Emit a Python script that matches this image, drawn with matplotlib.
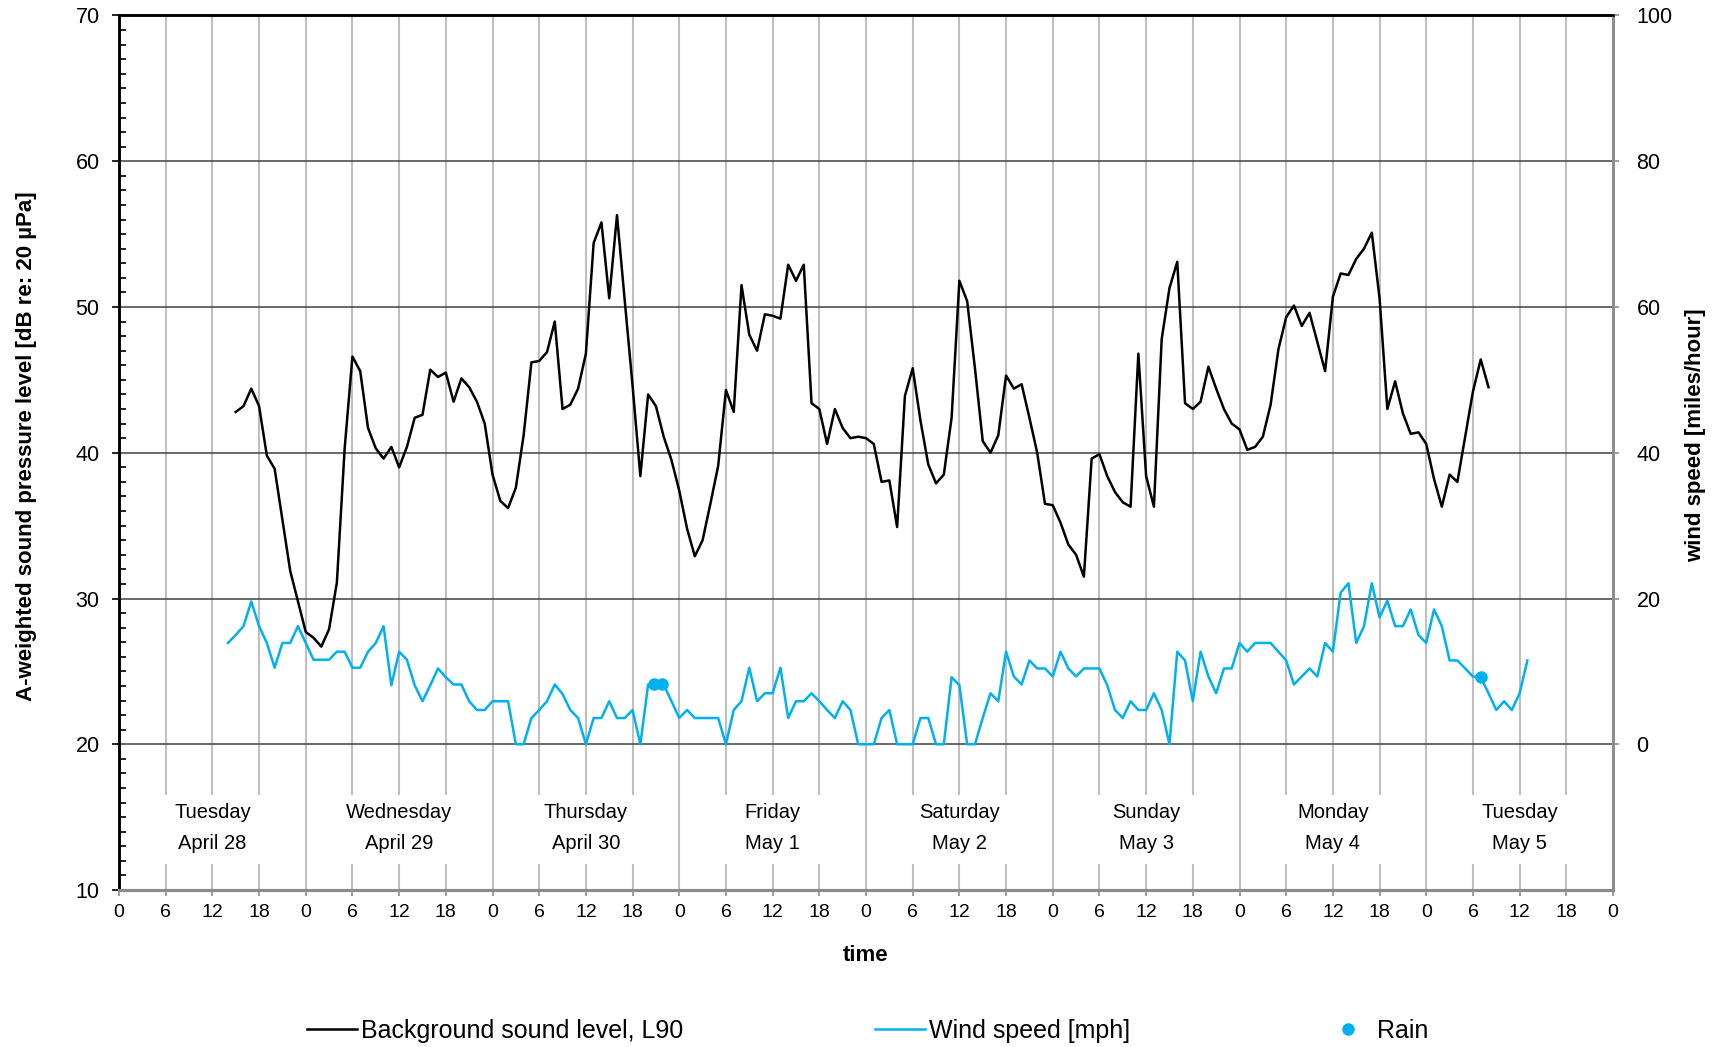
import numpy as np
import matplotlib.pyplot as plt
from matplotlib.lines import Line2D

plt.rcParams['font.family'] = ['Liberation Sans', 'DejaVu Sans']

# L90 background level, hourly values starting Tuesday 15:00 (hour 15)
sound_start = 15
sound_l90 = [
    42.8, 43.2, 44.4, 43.2, 39.8, 38.9, 35.4, 31.9, 29.8, 27.7,
    27.3, 26.7, 27.9, 31.1, 40.3, 46.6, 45.6, 41.7, 40.3, 39.6,
    40.4, 39.0, 40.4, 42.4, 42.6, 45.7, 45.2, 45.5, 43.5, 45.1,
    44.5, 43.5, 42.0, 38.5, 36.7, 36.2, 37.6, 41.2, 46.2, 46.3,
    46.9, 49.0, 43.0, 43.3, 44.4, 46.8, 54.4, 55.8, 50.6, 56.3,
    50.4, 44.6, 38.4, 44.0, 43.2, 41.1, 39.5, 37.4, 34.8, 32.9,
    34.0, 36.5, 39.1, 44.3, 42.8, 51.5, 48.1, 47.0, 49.5, 49.4,
    49.2, 52.9, 51.8, 52.9, 43.4, 43.0, 40.6, 43.0, 41.7, 41.0,
    41.1, 41.0, 40.6, 38.0, 38.1, 34.9, 43.9, 45.8, 42.2, 39.2,
    37.9, 38.5, 42.4, 51.8, 50.4, 45.8, 40.8, 40.0, 41.2, 45.3,
    44.4, 44.7, 42.4, 40.0, 36.5, 36.4, 35.2, 33.7, 33.0, 31.5,
    39.6, 39.9, 38.4, 37.3, 36.6, 36.3, 46.8, 38.4, 36.3, 47.8,
    51.3, 53.1, 43.4, 43.0, 43.5, 45.9, 44.4, 43.0, 42.0, 41.6,
    40.2, 40.4, 41.1, 43.3, 47.1, 49.3, 50.1, 48.7, 49.6, 47.6,
    45.6, 50.7, 52.3, 52.2, 53.3, 54.0, 55.1, 50.6, 43.0, 44.9,
    42.7, 41.3, 41.4, 40.6, 38.2, 36.3, 38.5, 38.0, 41.1, 44.2,
    46.4, 44.5,
]

# wind speed in mph, hourly values starting at hour 14
wind_start = 14
wind_mph = [
    13.9, 15.0, 16.2, 19.6, 16.2, 13.9, 10.5, 13.9, 13.9, 16.2,
    13.9, 11.6, 11.6, 11.6, 12.7, 12.7, 10.5, 10.5, 12.7, 13.9,
    16.2, 8.1, 12.7, 11.6, 8.1, 5.9, 8.1, 10.4, 9.2, 8.2,
    8.2, 5.9, 4.7, 4.7, 5.9, 5.9, 5.9, 0.0, 0.0, 3.6,
    4.7, 5.9, 8.2, 6.9, 4.7, 3.6, 0.0, 3.6, 3.6, 5.9,
    3.6, 3.6, 4.7, 0.0, 8.2, 8.2, 8.2, 5.9, 3.6, 4.7,
    3.6, 3.6, 3.6, 3.6, 0.0, 4.7, 5.9, 10.5, 5.9, 7.0,
    7.0, 10.5, 3.6, 5.9, 5.9, 7.0, 5.9, 4.7, 3.6, 5.9,
    4.7, 0.0, 0.0, 0.0, 3.6, 4.7, 0.0, 0.0, 0.0, 3.6,
    3.6, 0.0, 0.0, 9.2, 8.1, 0.0, 0.0, 3.6, 7.0, 5.9,
    12.7, 9.3, 8.2, 11.5, 10.4, 10.4, 9.3, 12.7, 10.4, 9.3,
    10.4, 10.4, 10.4, 8.1, 4.7, 3.6, 5.9, 4.7, 4.7, 7.0,
    4.7, 0.0, 12.7, 11.5, 5.9, 12.7, 9.3, 7.0, 10.4, 10.4,
    13.9, 12.7, 13.9, 13.9, 13.9, 12.7, 11.5, 8.2, 9.3, 10.4,
    9.3, 13.9, 12.7, 20.8, 22.1, 13.9, 16.2, 22.1, 17.4, 19.7,
    16.2, 16.2, 18.5, 15.0, 13.9, 18.5, 16.2, 11.5, 11.5, 10.4,
    9.3, 9.2, 7.0, 4.7, 5.9, 4.7, 7.0, 11.5,
]

# hours with rain, drawn on the wind curve
rain_hours = [68.8, 69.8, 175]
rain_mph = [8.2, 8.2, 9.2]

day_names = ['Tuesday', 'Wednesday', 'Thursday', 'Friday', 'Saturday', 'Sunday', 'Monday', 'Tuesday']
day_dates = ['April 28', 'April 29', 'April 30', 'May 1', 'May 2', 'May 3', 'May 4', 'May 5']

blue = '#00B0F0'
grey = '#8c8c8c'

sound_hours = np.arange(sound_start, sound_start + len(sound_l90))
wind_hours = np.arange(wind_start, wind_start + len(wind_mph))

fig = plt.figure(figsize=(17.21, 10.47), dpi=100)
ax = fig.add_axes([0.06915, 0.14995, 0.8681, 0.83525])
ax2 = ax.twinx()

ax.set_xlim(0, 192)
ax.set_ylim(10, 70)
ax2.set_ylim(-20, 100)

# vertical grid every 6 h, broken behind the day labels except at midnight
gap_lo, gap_hi = 11.8, 16.5
for h in range(6, 192, 6):
    if h % 24 == 0:
        ax.vlines(h, 10, 70, color='#bfbfbf', lw=1.5, zorder=0)
    else:
        ax.vlines(h, 10, gap_lo, color='#bfbfbf', lw=1.5, zorder=0)
        ax.vlines(h, gap_hi, 70, color='#bfbfbf', lw=1.5, zorder=0)

# horizontal grid
ax.hlines(np.arange(20, 70, 10), 0, 192, color='#404040', lw=1.1, zorder=0)

ax.plot(sound_hours, sound_l90, color='black', lw=1.8, zorder=3)
ax2.plot(wind_hours, wind_mph, color=blue, lw=1.8, zorder=3)
ax2.plot(rain_hours, rain_mph, 'o', color=blue, ms=8, zorder=4)

# day / date labels
for i in range(len(day_names)):
    ax.text(i * 24 + 12, 15.3, day_names[i], ha='center', va='center', fontsize=14.5)
    ax.text(i * 24 + 12, 13.2, day_dates[i], ha='center', va='center', fontsize=14.5)

# x axis: hour of day
xt = np.arange(0, 193, 6)
ax.set_xticks(xt)
ax.set_xticklabels([str(h % 24) for h in xt], fontsize=14)
ax.tick_params(axis='x', direction='out', length=4, width=1.2, color=grey, pad=6)
ax.set_xlabel('time', fontsize=16, fontweight='bold', labelpad=17)

# left axis
ax.set_yticks(np.arange(10, 71, 10))
ax.set_yticks(np.arange(10, 71, 1), minor=True)
ax.tick_params(axis='y', which='major', direction='out', length=5, width=1.2, labelsize=15.5, pad=9)
ax.tick_params(axis='y', which='minor', direction='in', length=5, width=1.2)
ax.set_ylabel('A-weighted sound pressure level [dB re: 20 µPa]', fontsize=16, fontweight='bold')
ax.yaxis.set_label_coords(-0.0552, 0.508)

# right axis: wind speed
ax2.set_yticks(np.arange(0, 101, 20))
ax2.tick_params(axis='y', direction='out', length=4, width=1.2, color=grey, labelsize=15.5, pad=13)
ax2.set_ylabel('wind speed [miles/hour]', fontsize=16, fontweight='bold')
ax2.yaxis.set_label_coords(1.0482, 0.5205)

for a in (ax, ax2):
    a.spines['left'].set_color('black')
    a.spines['left'].set_linewidth(1.8)
    a.spines['top'].set_color('black')
    a.spines['top'].set_linewidth(1.8)
    a.spines['bottom'].set_color(grey)
    a.spines['bottom'].set_linewidth(2.2)
    a.spines['right'].set_color(grey)
    a.spines['right'].set_linewidth(2.0)

handles = [Line2D([], [], color='black', lw=1.8),
           Line2D([], [], color=blue, lw=1.8),
           Line2D([], [], color=blue, marker='o', ms=8, ls='none')]
labels = ['Background sound level, L90', 'Wind speed [mph]', 'Rain']
fig.legend(handles, labels, loc='center', bbox_to_anchor=(0.504, 0.0153), ncol=3,
           frameon=False, fontsize=18, handlelength=2.0, handletextpad=0.15,
           columnspacing=7.7, numpoints=1)

fig.savefig('out.png', dpi=100)
